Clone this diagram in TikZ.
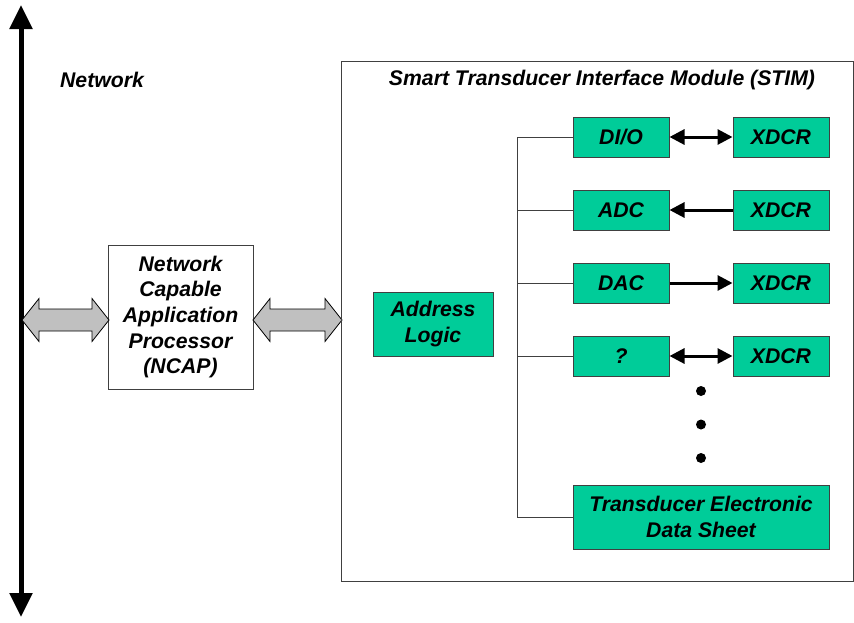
\documentclass[tikz,border=0pt]{standalone}
\usepackage{fontspec}
\setmainfont{Liberation Sans}
\usetikzlibrary{arrows.meta}
\definecolor{stimgreen}{RGB}{0,204,153}
\definecolor{boxline}{RGB}{64,64,64}
\definecolor{fatgray}{RGB}{192,192,192}

\newcommand{\fatarrow}[3]{%
\draw [fill=fatgray, draw=black, line width=0.8pt, line join=miter]
  (#1,#3) -- (#1+17,#3-21.5) -- (#1+17,#3-11) -- (#2-17,#3-11) -- (#2-17,#3-21.5)
  -- (#2,#3) -- (#2-17,#3+21.5) -- (#2-17,#3+11) -- (#1+17,#3+11) -- (#1+17,#3+21.5) -- cycle;}

\begin{document}
\begin{tikzpicture}[x=1pt,y=-1pt]
\tikzstyle{every node}=[inner sep=0pt, align=center, font=\fontsize{21.2}{25.7}\selectfont\bfseries\itshape]
\tikzstyle{greenbox}=[draw=boxline, fill=stimgreen, line width=1pt, minimum width=96pt, minimum height=40pt]
\tikzstyle{conn}=[line width=3pt, {Triangle[width=15pt,length=15pt]}-{Triangle[width=15pt,length=15pt]}]
\tikzstyle{busline}=[line width=1pt, draw=boxline]
\useasboundingbox (0,0) rectangle (854,622);
% network backbone
\coordinate (nettop) at (21,5);
\coordinate (netbot) at (21,617);
\draw [line width=5pt, {Triangle[width=22pt,length=24pt]}-{Triangle[width=22pt,length=24pt]}] (nettop) -- (netbot);
\node (netlabel) at (102,80) {Network};
% NCAP
\node (ncap) [draw=boxline, line width=1pt, fill=white, minimum width=145pt, minimum height=144pt] at (180.5,317)
  {Network\\Capable\\Application\\Processor\\(NCAP)};
\fatarrow{22}{109}{320}
\fatarrow{253}{342}{320}
% STIM
\draw [draw=boxline, line width=1pt] (341,61) rectangle (853,581);
\node (stimlabel) at (602,80) {Smart Transducer Interface Module (STIM)};
\node (addr) [greenbox, minimum width=120pt, minimum height=64pt] at (433,324) {Address\\Logic};
\node (dio) [greenbox] at (621,137) {DI/O};
\node (adc) [greenbox] at (621,210) {ADC};
\node (dac) [greenbox] at (621,283) {DAC};
\node (unk) [greenbox] at (621,356) {?};
\node (xdcra) [greenbox] at (781,137) {XDCR};
\node (xdcrb) [greenbox] at (781,210) {XDCR};
\node (xdcrc) [greenbox] at (781,283) {XDCR};
\node (xdcrd) [greenbox] at (781,356) {XDCR};
\node (teds) [greenbox, minimum width=256pt, minimum height=64pt] at (701,517) {Transducer Electronic\\Data Sheet};
\draw [conn] (dio) -- (xdcra);
\draw [conn, -{Triangle[width=15pt,length=15pt]}] (xdcrb) -- (adc);
\draw [conn, -{Triangle[width=15pt,length=15pt]}] (dac) -- (xdcrc);
\draw [conn] (unk) -- (xdcrd);
% bus
\coordinate (bustop) at (517,137);
\draw [busline] (dio.west) -- (bustop) -- (bustop |- teds.west) -- (teds.west);
\draw [busline] (adc.west) -- (bustop |- adc.west);
\draw [busline] (dac.west) -- (bustop |- dac.west);
\draw [busline] (unk.west) -- (bustop |- unk.west);
\fill (701,391) circle (5);
\fill (701,424.5) circle (5);
\fill (701,458) circle (5);
\end{tikzpicture}
\end{document}
